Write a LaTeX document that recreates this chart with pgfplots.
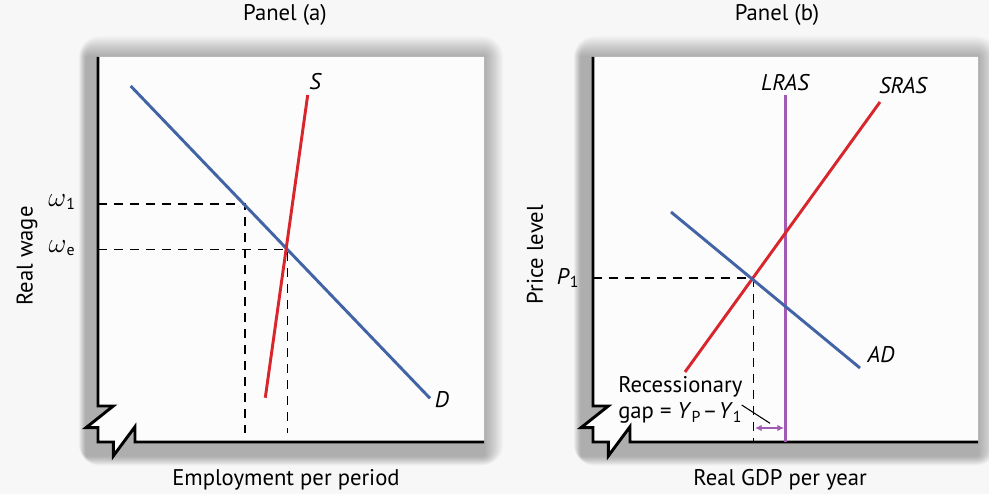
\documentclass[border=0pt]{standalone}
\usepackage{pgfplots}
\pgfplotsset{compat=1.18}
\usepackage{fontspec}
\setmainfont{PT Sans}
\usetikzlibrary{arrows.meta}

\definecolor{dblue}{HTML}{4263A6}
\definecolor{sred}{HTML}{D8262C}
\definecolor{lpurple}{HTML}{A25BB4}
\definecolor{bgcol}{HTML}{F7F7F7}
\definecolor{boxfill}{HTML}{FCFCFC}

\newcommand{\txt}{\fontsize{17}{20}\selectfont}
\newcommand{\om}{{\fontsize{21}{22}\selectfont$\omega$}}

\pgfplotsset{
  econ/.style={
    disabledatascaling, anchor=origin, x=0.75pt, y=0.75pt,
    xmin=0, ymin=0, ymax=385,
    axis line style={draw=none}, ticks=none, clip=false,
    label style={font=\txt, anchor=center},
  },
  curve/.style={line width=2.2pt, no markers},
  guide/.style={black, line width=1pt, dash pattern=on 7pt off 5pt, no markers},
}
\tikzset{lbl/.style={font=\txt\itshape, inner sep=0pt}}

% frame with the broken-axis notch, soft shadow and white face
\newcommand{\panelframe}[3]{%
  \begin{scope}[shift={(#1,52)}]
    \foreach \i in {1,...,16}
      \fill[black, opacity=0.02, rounded corners=\i pt]
        (-12-0.45*\i, -14-0.6*\i) rectangle (#2+1.2*\i, #3+1.3*\i);
    \fill[boxfill] (0,#3) -- (0,36) -- (15.3,36) -- (-12,14.3) -- (0,14.3)
      -- (0,0) -- (15.3,0) -- (15.3,-14) -- (37,15.3) -- (37,0) -- (#2,0)
      -- (#2,#3) -- cycle;
    \draw[line width=2.2pt, line join=miter] (0,#3) -- (0,36) -- (15.3,36)
      -- (-12,14.3) -- (0,14.3) -- (0,0) -- (15.3,0) -- (15.3,-14)
      -- (37,15.3) -- (37,0) -- (#2,0);
  \end{scope}}

\begin{document}
\begin{tikzpicture}[x=0.75pt, y=0.75pt]
  \useasboundingbox[fill=bgcol] (0,0) rectangle (989,494);
  \panelframe{98}{386}{385}
  \panelframe{593}{385}{385}

  % Panel (a): labour market
  \begin{axis}[econ, at={(98,52)}, xmax=386,
      xlabel={Employment per period},
      xlabel style={at={(axis description cs:0.487,-0.099)}},
      ylabel={Real wage},
      ylabel style={at={(axis description cs:-0.184,0.483)}, rotate=0},
    ]
    \addplot[guide] coordinates {(0,238) (147,238) (147,9)};
    \addplot[guide] coordinates {(0,192.5) (189.5,192.5) (189.5,9)};
    \addplot[curve, dblue] coordinates {(32.7,356) (332,43.7)};
    \addplot[curve, sred] coordinates {(209.7,347) (167.3,44.3)};
    \node[font=\txt] at (187,427) {Panel (a)};
    \node[lbl] at (217,360) {S};
    \node[lbl] at (344,42) {D};
    \node[font=\txt] at (-36,240) {\om\textsubscript{1}};
    \node[font=\txt] at (-36,194) {\om\textsubscript{e}};
  \end{axis}

  % Panel (b): AD-AS with recessionary gap
  \begin{axis}[econ, at={(593,52)}, xmax=385,
      xlabel={Real GDP per year},
      xlabel style={at={(axis description cs:0.486,-0.099)}},
      ylabel={Price level},
      ylabel style={at={(axis description cs:-0.151,0.486)}, rotate=0},
    ]
    \addplot[guide] coordinates {(0,164) (160.5,164) (160.5,0)};
    \addplot[curve, lpurple] coordinates {(192.7,0) (192.7,347)};
    \addplot[curve, sred] coordinates {(92,70) (287,340)};
    \addplot[curve, dblue] coordinates {(78,230) (267,74)};
    \draw[lpurple, line width=1.3pt, {Latex[length=5pt,width=5pt]}-{Latex[length=5pt,width=5pt]}]
      (162,14) -- (191,14);
    \draw[black, line width=0.8pt] (148.7,37) -- (177,18.7);
    \node[font=\txt] at (184,427) {Panel (b)};
    \node[lbl] at (192,359) {LRAS};
    \node[lbl] at (310,356) {SRAS};
    \node[lbl] at (288,87) {AD};
    \node[font=\txt] at (-25,164) {\textit{P}\textsubscript{1}};
    \node[anchor=west, align=left, inner sep=0pt,
          font=\fontsize{17}{19.5}\selectfont] at (25,42)
      {Recessionary\\gap = \textit{Y}\textsubscript{P}\hspace{1pt}–\hspace{1pt}\textit{Y}\textsubscript{1}};
  \end{axis}
\end{tikzpicture}
\end{document}
